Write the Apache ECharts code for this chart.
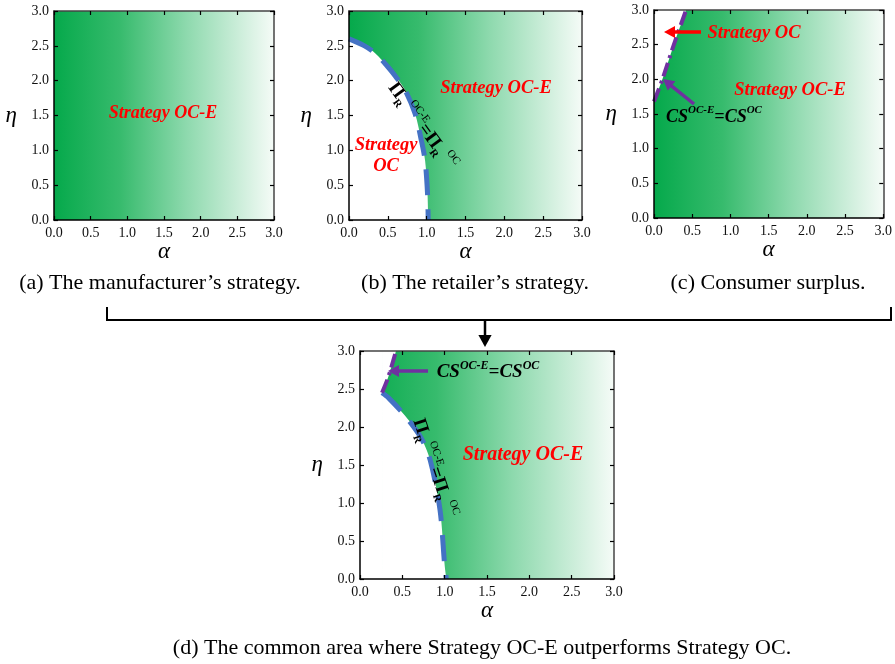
<!DOCTYPE html>
<html>
<head>
<meta charset="utf-8">
<script src="https://cdn.jsdelivr.net/npm/echarts@6/dist/echarts.min.js"></script>
<style>
html,body{margin:0;padding:0;background:#fff;}
#main{width:895px;height:664px;}
</style>
</head>
<body>
<div id="main"></div>
<script>
// ---- data ----
const axisMin = 0;
const axisMax = 3;
const axisStep = 0.5;
// (b) retailer's indifference boundary  Π_R^{OC-E} = Π_R^{OC}  as [α, η]
const retailerBoundary = [[0,2.6],[0.2,2.5],[0.34,2.39],[0.5,2.2],[0.6,2.06],[0.72,1.87],[0.85,1.53],[0.93,1.15],[0.98,0.85],[1.01,0.4],[1.02,0]];
// (c) consumer surplus boundary CS^{OC-E} = CS^{OC}
const consumerBoundary = [[0,1.68],[0.11,2.0],[0.26,2.5],[0.42,3.0]];
// (d) common area boundaries
const commonRetailer = [[0.26,2.45],[0.34,2.38],[0.53,2.15],[0.72,1.86],[0.83,1.56],[0.945,0.91],[1.0,0.18],[1.02,0]];
const commonConsumer = [[0.26,2.45],[0.335,2.66],[0.425,3.0]];
const commonLeftBlock = [[0,3],[0.26,3]];

const captions = [
  '(a) The manufacturer\u2019s strategy.',
  '(b) The retailer\u2019s strategy.',
  '(c) Consumer surplus.',
  '(d) The common area where Strategy OC-E outperforms Strategy OC.'
];

// ---- layout ----
const SERIF = 'Liberation Serif';
const grids = [
  {left:54, top:11, width:220, height:209},
  {left:349, top:11, width:233, height:209},
  {left:654, top:10, width:231, height:208},
  {left:360, top:351, width:254, height:228}
];
const grad = () => new echarts.graphic.LinearGradient(0,0,1,0,[
  {offset:0, color:'#05a94b'},
  {offset:0.3, color:'#37bb6d'},
  {offset:0.6, color:'#8dd9ad'},
  {offset:1, color:'#f5fbf7'}
]);

const gridOpts = grids.map(g => Object.assign({show:true, backgroundColor:grad(), borderWidth:0}, g));
const xAxes = [], yAxes = [];
grids.forEach((g, i) => {
  const common = {type:'value', gridIndex:i, min:axisMin, max:axisMax, interval:axisStep, splitLine:{show:false}, z:10};
  xAxes.push(Object.assign({}, common, {
    position:'bottom',
    axisLine:{show:true, onZero:false, lineStyle:{color:'#000', width:1.5}},
    axisTick:{show:true, inside:true, length:4, lineStyle:{color:'#000', width:1.2}},
    axisLabel:{formatter:v=>v.toFixed(1), fontFamily:SERIF, fontSize:14, color:'#111', margin:6},
    name:'\u03b1', nameLocation:'middle', nameGap:19,
    nameTextStyle:{fontFamily:SERIF, fontStyle:'italic', fontSize:23, color:'#000'}
  }));
  xAxes.push(Object.assign({}, common, {
    position:'top',
    axisLine:{show:true, onZero:false, lineStyle:{color:'#444', width:1.5}},
    axisTick:{show:true, inside:true, length:4, lineStyle:{color:'#000', width:1.2}},
    axisLabel:{show:false}
  }));
  yAxes.push(Object.assign({}, common, {
    position:'left',
    axisLine:{show:true, onZero:false, lineStyle:{color:'#000', width:1.5}},
    axisTick:{show:true, inside:true, length:4, lineStyle:{color:'#000', width:1.2}},
    axisLabel:{formatter:v=>v.toFixed(1), fontFamily:SERIF, fontSize:14, color:'#111', margin:5},
    name:'\u03b7', nameLocation:'middle', nameGap:37, nameRotate:0,
    nameTextStyle:{fontFamily:SERIF, fontStyle:'italic', fontSize:23, color:'#000'}
  }));
  yAxes.push(Object.assign({}, common, {
    position:'right',
    axisLine:{show:true, onZero:false, lineStyle:{color:'#444', width:1.5}},
    axisTick:{show:true, inside:true, length:4, lineStyle:{color:'#000', width:1.2}},
    axisLabel:{show:false}
  }));
});

const BLUE = '#4472c4', PURPLE = '#7030a0', RED = '#ff0000';
function fill(gi, data, origin) {
  return {type:'line', xAxisIndex:gi*2, yAxisIndex:gi*2, data:data, symbol:'none', smooth:0.3,
    lineStyle:{width:0, opacity:0}, areaStyle:{color:'#ffffff', opacity:1, origin:origin}, silent:true, z:2};
}
function dash(gi, data, color, type, width) {
  return {type:'line', xAxisIndex:gi*2, yAxisIndex:gi*2, data:data, symbol:'none', smooth:0.3,
    lineStyle:{color:color, width:width, type:type, cap:'butt'}, silent:true, z:3};
}
const series = [
  fill(1, retailerBoundary, 'start'),
  dash(1, retailerBoundary, BLUE, [26,14], 5),
  fill(2, consumerBoundary, 'end'),
  dash(2, consumerBoundary, PURPLE, [14,5,3,5], 4),
  {type:'line', xAxisIndex:6, yAxisIndex:6, data:commonLeftBlock, symbol:'none',
    lineStyle:{width:0, opacity:0}, areaStyle:{color:'#ffffff', opacity:1, origin:'start'}, silent:true, z:2},
  fill(3, commonRetailer, 'start'),
  fill(3, commonConsumer, 'end'),
  dash(3, commonRetailer, BLUE, [26,14], 5),
  dash(3, commonConsumer, PURPLE, [14,5,3,5], 4)
];

const redLabel = (x, y, text, size) => ({type:'text', x:x, y:y, z:50, style:{text:text, fill:RED,
  font:'italic bold '+size+'px "'+SERIF+'"', align:'center', verticalAlign:'middle', lineHeight:21}});
const piText = (x, y, rot, big, small) => ({type:'text', x:x, y:y, rotation:rot, z:50, style:{
  text:'{a|\u03a0}{b|R}{c| OC-E}{a|=\u03a0}{b|R}{c| OC}', align:'center', verticalAlign:'middle', fill:'#000',
  rich:{
    a:{fontFamily:SERIF, fontWeight:'bold', fontSize:big, fill:'#000', lineHeight:big+6},
    b:{fontFamily:SERIF, fontWeight:'bold', fontSize:small, fill:'#000', verticalAlign:'bottom'},
    c:{fontFamily:SERIF, fontSize:small, fill:'#000', verticalAlign:'top'}
  }}});
const csText = (x, y, big, small) => ({type:'text', x:x, y:y, z:50, style:{
  text:'{a|CS}{c|OC-E}{a|=CS}{c|OC}', align:'center', verticalAlign:'middle', fill:'#000',
  rich:{
    a:{fontFamily:SERIF, fontWeight:'bold', fontStyle:'italic', fontSize:big, fill:'#000', lineHeight:big+6},
    c:{fontFamily:SERIF, fontWeight:'bold', fontStyle:'italic', fontSize:small, fill:'#000', verticalAlign:'top'}
  }}});
function arrow(x1, y1, x2, y2, color, w, head) {
  const dx = x2-x1, dy = y2-y1, L = Math.hypot(dx,dy), ux = dx/L, uy = dy/L;
  const bx = x2-ux*head, by = y2-uy*head, px = -uy, py = ux, hw = head*0.55;
  return [
    {type:'line', z:50, shape:{x1:x1, y1:y1, x2:bx+ux*1, y2:by+uy*1}, style:{stroke:color, lineWidth:w}},
    {type:'polygon', z:50, shape:{points:[[x2,y2],[bx+px*hw,by+py*hw],[bx-px*hw,by-py*hw]]}, style:{fill:color}}
  ];
}
const capStyle = (x, y, t) => ({type:'text', x:x, y:y, z:50, style:{text:t, fill:'#000',
  font:'22px "'+SERIF+'"', align:'center', verticalAlign:'middle'}});

const graphics = [
  redLabel(163, 113, 'Strategy OC-E', 18),
  redLabel(496, 88, 'Strategy OC-E', 18.5),
  redLabel(386, 156, 'Strategy\nOC', 18.5),
  piText(422, 126, -0.94, 19, 11),
  redLabel(754, 33, 'Strategy OC', 18.5),
  redLabel(790, 90, 'Strategy OC-E', 18.5),
  csText(714, 117, 18, 11),
  ...arrow(701, 32, 664, 32, RED, 3.5, 11),
  ...arrow(694, 104, 663, 79, PURPLE, 3.5, 11),
  redLabel(523, 455, 'Strategy OC-E', 20),
  csText(488, 372, 19, 12),
  piText(434, 468, -1.25, 19, 11),
  ...arrow(428, 371, 388, 371, PURPLE, 3.5, 11),
  capStyle(160, 283, captions[0]),
  capStyle(475, 283, captions[1]),
  capStyle(768, 283, captions[2]),
  capStyle(482, 648, captions[3]),
  {type:'polyline', z:50, shape:{points:[[107,307],[107,320],[891,320],[891,307]]}, style:{stroke:'#000', lineWidth:2, fill:null}},
  ...arrow(485, 320, 485, 347, '#000', 2.5, 12)
];

const chart = echarts.init(document.getElementById('main'), null, {renderer:'canvas'});
chart.setOption({
  animation:false,
  backgroundColor:'#ffffff',
  grid:gridOpts,
  xAxis:xAxes,
  yAxis:yAxes,
  series:series,
  graphic:graphics
});
</script>
</body>
</html>
